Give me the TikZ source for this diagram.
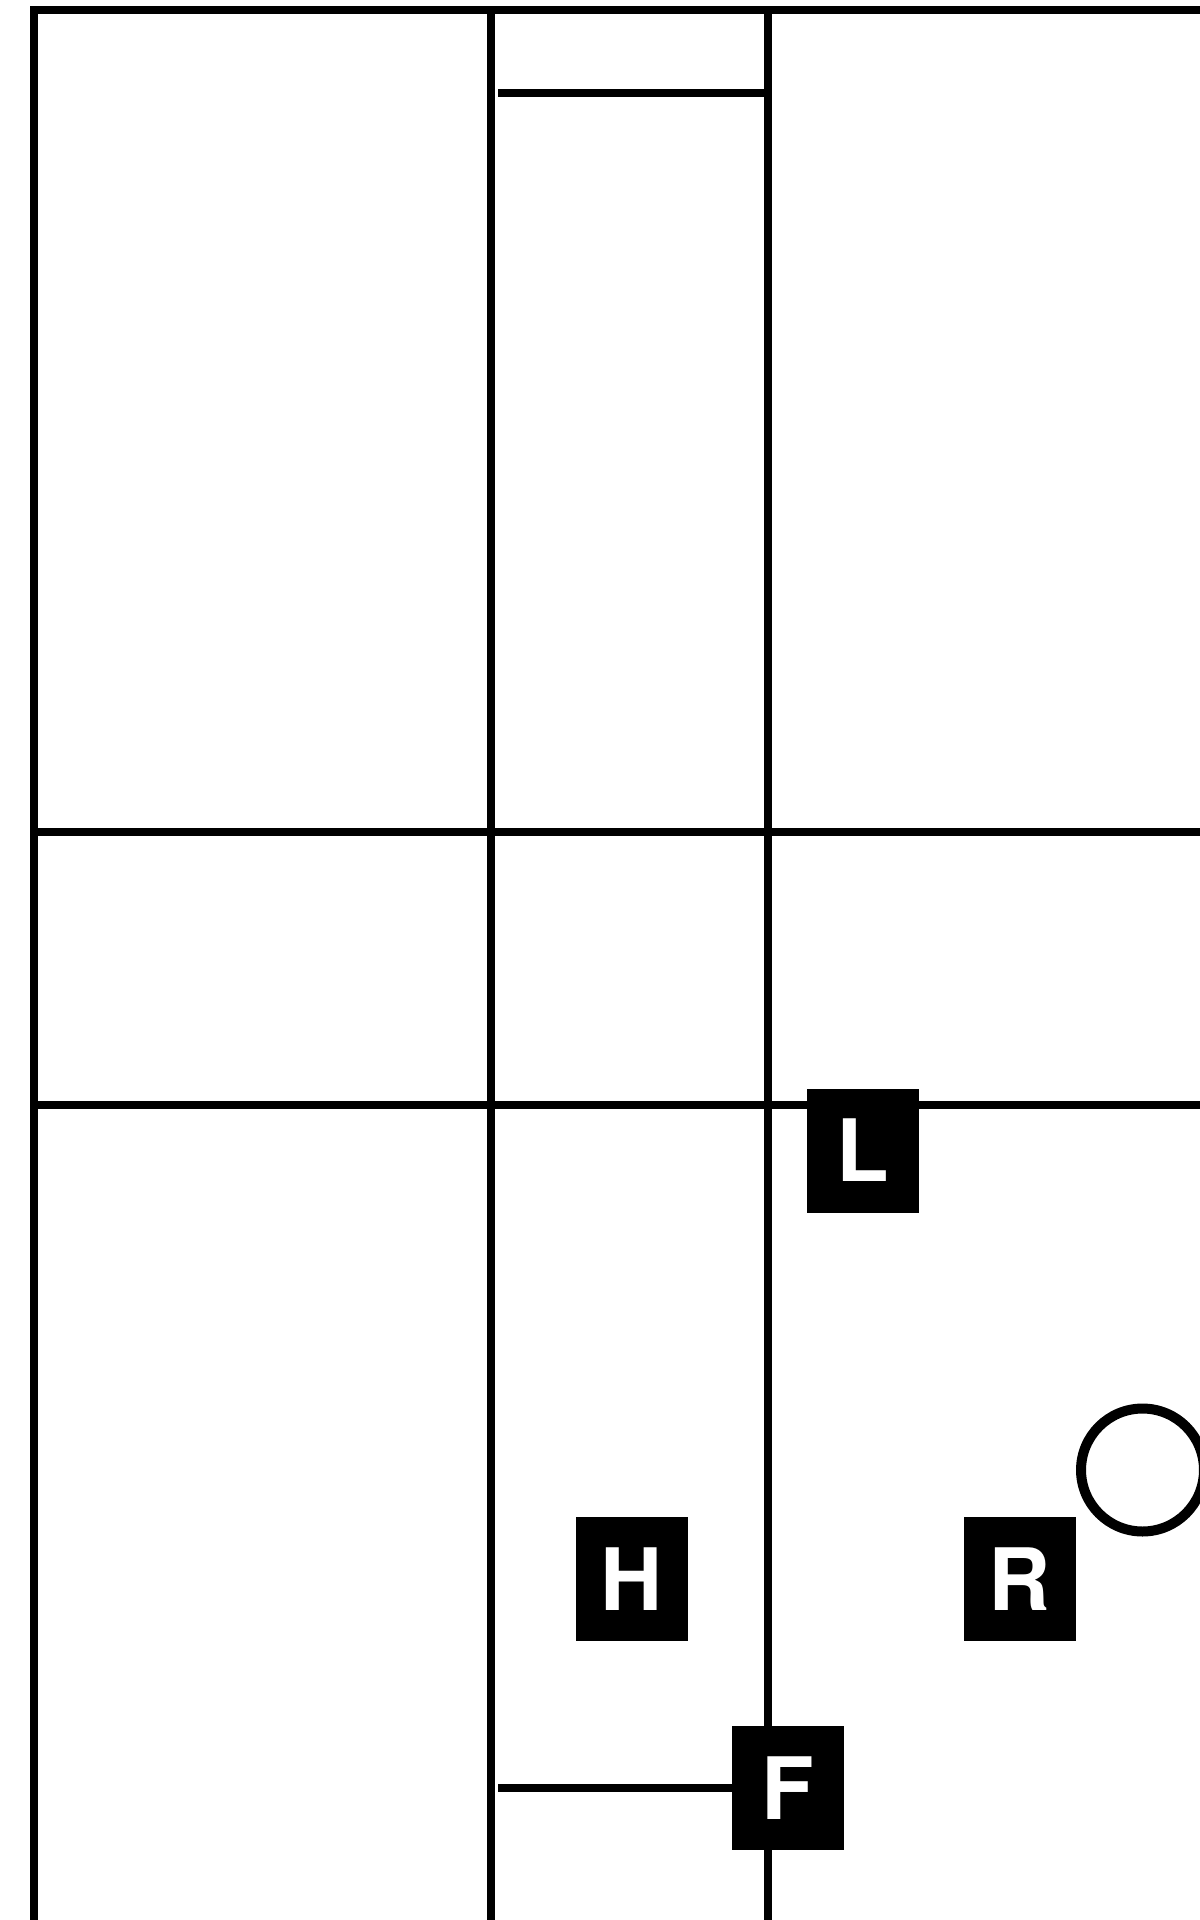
\documentclass[tikz,border=0pt]{standalone}
\usepackage{fontspec}
\setmainfont{TeX Gyre Heros}
\usepackage{tikz}

\begin{document}
\begin{tikzpicture}[
    x=0.02cm, y=-0.02cm,
    track/.style={line width=0.16cm},
    sign/.style={rectangle, fill=black, text=white, minimum width=2.24cm, minimum height=2.48cm,
                 inner sep=0pt, font=\fontsize{49}{49}\selectfont\bfseries}
]
\clip (0,0) rectangle (1200,1920);

% Outer edge and long lines
\draw[track] (34,1920) -- (34,10) -- (1200,10);
\draw[track] (491,6) -- (491,1920);
\draw[track] (768,6) -- (768,1920);
\draw[track] (34,832) -- (1200,832);
\draw[track] (34,1105) -- (1200,1105);
\draw[track] (498,93) -- (768,93);

% Signs
\node[sign] (L) at (862.5,1150.5) {L};
\node[sign] (H) at (632,1579) {H};
\node[sign] (R) at (1019.5,1579) {R};
\node[sign] (F) at (788,1788) {F};
\draw[track] (498,1788) -- (F.west);

% Ring at the right
\node[circle, draw=black, line width=0.2cm, minimum size=2.46cm, inner sep=0pt] (ring) at (1142.5,1470) {};

\end{tikzpicture}
\end{document}
